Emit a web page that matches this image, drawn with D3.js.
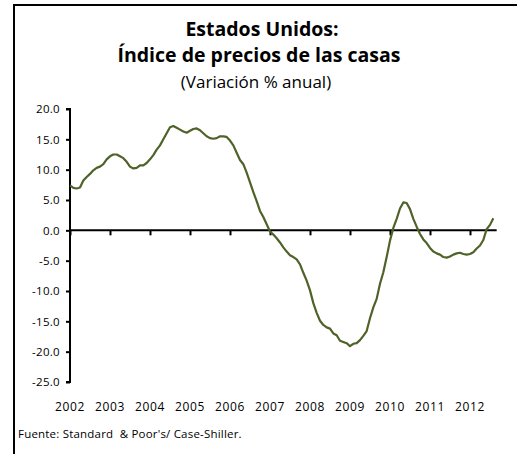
<!DOCTYPE html>
<html>
<head>
<meta charset="utf-8">
<script src="https://cdn.jsdelivr.net/npm/d3@7"></script>
<style>
  html, body { margin: 0; padding: 0; background: #fff; }
  svg { display: block; }
</style>
</head>
<body>
<svg id="chart" width="517" height="454"></svg>
<script>
// ---- Data (monthly, Jan 2002 – Aug 2012) ----
const yearLabels = ["2002","2003","2004","2005","2006","2007","2008","2009","2010","2011","2012"];
const yTicks = [20, 15, 10, 5, 0, -5, -10, -15, -20, -25];
const values = [
  // 2002
  7.4, 7.0, 6.9, 7.05, 8.2, 8.8, 9.3, 9.9, 10.3, 10.5, 10.9, 11.7,
  // 2003
  12.2, 12.5, 12.5, 12.2, 11.9, 11.3, 10.5, 10.2, 10.3, 10.7, 10.7, 11.1,
  // 2004
  11.7, 12.4, 13.3, 14.0, 15.0, 16.0, 17.0, 17.2, 16.9, 16.6, 16.3, 16.1,
  // 2005
  16.4, 16.7, 16.8, 16.5, 16.0, 15.5, 15.2, 15.1, 15.2, 15.5, 15.5, 15.4,
  // 2006
  14.8, 14.0, 12.8, 11.6, 10.9, 9.5, 7.9, 6.3, 4.8, 3.2, 2.2, 1.0,
  // 2007
  -0.2, -0.7, -1.3, -2.0, -2.8, -3.5, -4.1, -4.4, -4.8, -5.6, -7.0, -8.3,
  // 2008
  -9.9, -12.0, -13.6, -14.9, -15.6, -16.0, -16.2, -17.0, -17.3, -18.2, -18.4, -18.6,
  // 2009
  -19.1, -18.7, -18.6, -18.1, -17.4, -16.6, -14.5, -12.7, -11.3, -8.8, -6.9, -4.4,
  // 2010
  -1.7, 0.4, 1.9, 3.6, 4.6, 4.5, 3.5, 1.9, 0.6, -0.6, -1.5, -2.1,
  // 2011
  -2.9, -3.5, -3.8, -4.0, -4.4, -4.5, -4.3, -4.0, -3.8, -3.7, -3.9, -4.0,
  // 2012
  -3.9, -3.6, -3.0, -2.5, -1.6, 0.2, 0.9, 2.0
];
const titleLines = ["Estados Unidos:", "Índice de precios de las casas"];
const subtitle = "(Variación % anual)";
const source = "Fuente: Standard  & Poor's/ Case-Shiller.";

// ---- Layout ----
const svg = d3.select("#chart");
const font = "'Open Sans', 'Noto Sans', sans-serif";
const lineColor = "#4f6228";

// frame (left + top border)
svg.append("path")
  .attr("d", "M14,454 V5 H517")
  .attr("fill", "none").attr("stroke", "#000").attr("stroke-width", 2);

const x = d3.scaleLinear().domain([0, 132]).range([70, 510]);
const y = d3.scaleLinear().domain([-25, 20]).range([382, 109]);

// titles
svg.append("text").attr("x", 262).attr("y", 36)
  .attr("text-anchor", "middle").attr("font-family", font)
  .attr("font-weight", "bold").attr("font-size", 19.5).attr("fill", "#000")
  .text(titleLines[0]);
svg.append("text").attr("x", 259).attr("y", 62)
  .attr("text-anchor", "middle").attr("font-family", font)
  .attr("font-weight", "bold").attr("font-size", 19.5).attr("fill", "#000")
  .text(titleLines[1]);
svg.append("text").attr("x", 256).attr("y", 88)
  .attr("text-anchor", "middle").attr("font-family", font)
  .attr("font-size", 17).attr("fill", "#000")
  .text(subtitle);

// y axis
const fmt = d => d3.format(".1f")(d).replace("\u2212", "-");
const yAxis = d3.axisLeft(y).tickValues(yTicks).tickSize(4).tickPadding(6)
  .tickFormat(fmt);
const gy = svg.append("g").attr("transform", "translate(70,0)").call(yAxis);
gy.select(".domain").attr("stroke", "#000").attr("stroke-width", 2)
  .attr("d", `M-4,${y(20)}H0V${y(-25)}H-4`);
gy.selectAll(".tick line").attr("stroke", "#000").attr("stroke-width", 2);
gy.selectAll(".tick text").attr("font-family", font).attr("font-size", 11.5)
  .attr("letter-spacing", 0.3).attr("fill", "#000");

// x axis (at zero) with year ticks
const yearIdx = yearLabels.map((d, i) => i * 12);
const xAxis = d3.axisBottom(x).tickValues(yearIdx).tickSize(5).tickFormat("");
const gx = svg.append("g").attr("transform", `translate(0,${y(0)})`).call(xAxis);
gx.select(".domain").attr("stroke", "#000").attr("stroke-width", 2)
  .attr("d", `M${x(0)},0H${x(128)}`);
gx.selectAll(".tick line").attr("stroke", "#000").attr("stroke-width", 2);

// year labels at the bottom
svg.append("g").selectAll("text").data(yearLabels).join("text")
  .attr("x", (d, i) => x(i * 12))
  .attr("y", 411)
  .attr("text-anchor", "middle")
  .attr("font-family", font).attr("font-size", 12).attr("letter-spacing", 0.6)
  .attr("fill", "#000")
  .text(d => d);

// line
const line = d3.line().x((d, i) => x(i)).y(d => y(d)).curve(d3.curveLinear);
svg.append("path").datum(values)
  .attr("d", line)
  .attr("fill", "none").attr("stroke", lineColor).attr("stroke-width", 2.2)
  .attr("stroke-linejoin", "round");

// source
svg.append("text").attr("x", 18).attr("y", 438)
  .attr("font-family", font).attr("font-size", 11.5).attr("fill", "#000")
  .attr("letter-spacing", 0.2)
  .style("white-space", "pre")
  .text(source);
</script>
</body>
</html>
